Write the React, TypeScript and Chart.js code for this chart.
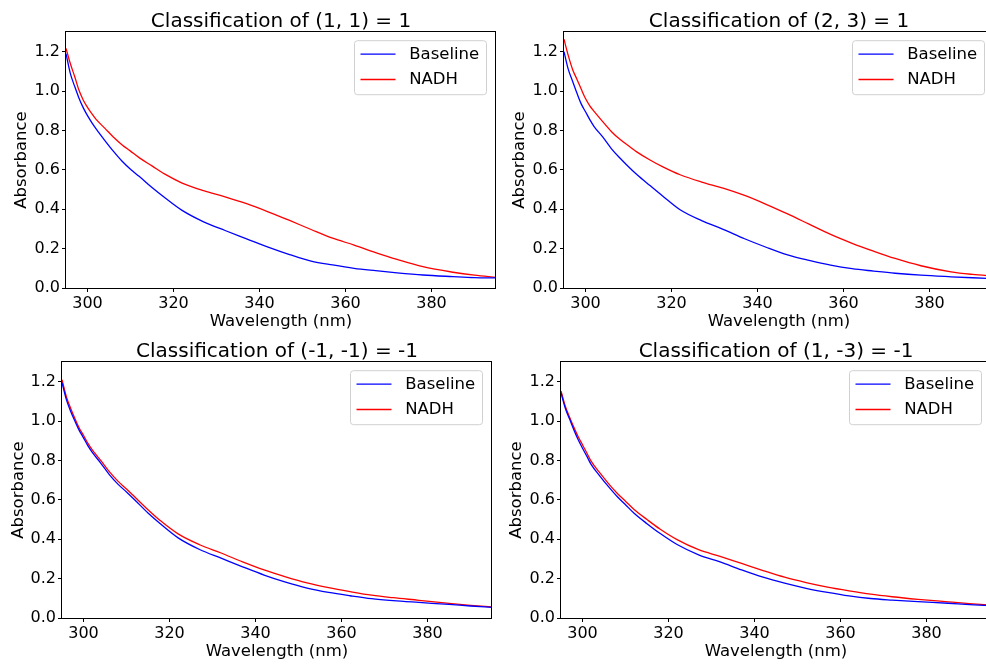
import React, { useEffect, useRef } from 'react';
import { Chart, registerables } from 'chart.js';
Chart.register(...registerables);

const FONT = '"DejaVu Sans", "Liberation Sans", sans-serif';

// Wavelength grid (nm)
const wavelength = [295, 296, 297, 298, 299, 300, 301, 302, 304, 306, 308, 310, 312, 315, 318, 322, 327, 332, 337, 342, 347, 352, 357, 362, 367, 372, 378, 385, 390, 395];

// Classification of (1, 1) = 1
const tlBaseline = [1.19, 1.09, 1.025, 0.965, 0.916, 0.875, 0.84, 0.808, 0.75, 0.695, 0.645, 0.603, 0.567, 0.51, 0.458, 0.394, 0.336, 0.292, 0.25, 0.208, 0.17, 0.137, 0.117, 0.1, 0.088, 0.077, 0.066, 0.058, 0.053, 0.051];
const tlNadh = [1.217, 1.14, 1.075, 1.005, 0.955, 0.917, 0.885, 0.856, 0.812, 0.767, 0.728, 0.695, 0.662, 0.62, 0.578, 0.533, 0.494, 0.463, 0.428, 0.387, 0.343, 0.297, 0.253, 0.218, 0.18, 0.145, 0.108, 0.08, 0.065, 0.054];

// Classification of (2, 3) = 1
const trBaseline = [1.2, 1.11, 1.05, 0.99, 0.935, 0.895, 0.855, 0.82, 0.767, 0.708, 0.66, 0.616, 0.575, 0.52, 0.466, 0.397, 0.342, 0.298, 0.25, 0.207, 0.168, 0.14, 0.116, 0.098, 0.086, 0.075, 0.065, 0.057, 0.052, 0.048];
const trNadh = [1.263, 1.18, 1.11, 1.06, 1.01, 0.962, 0.925, 0.897, 0.845, 0.795, 0.755, 0.722, 0.69, 0.65, 0.615, 0.575, 0.538, 0.507, 0.47, 0.425, 0.376, 0.324, 0.272, 0.227, 0.187, 0.15, 0.113, 0.082, 0.069, 0.06];

// Classification of (-1, -1) = -1
const blBaseline = [1.195, 1.11, 1.05, 1.0, 0.953, 0.915, 0.875, 0.842, 0.787, 0.728, 0.68, 0.64, 0.598, 0.533, 0.476, 0.407, 0.348, 0.304, 0.26, 0.218, 0.182, 0.152, 0.13, 0.113, 0.098, 0.088, 0.079, 0.069, 0.061, 0.054];
const blNadh = [1.21, 1.125, 1.065, 1.013, 0.965, 0.928, 0.888, 0.855, 0.8, 0.743, 0.695, 0.655, 0.613, 0.55, 0.492, 0.427, 0.372, 0.33, 0.285, 0.244, 0.209, 0.178, 0.154, 0.134, 0.116, 0.103, 0.09, 0.074, 0.064, 0.056];

// Classification of (1, -3) = -1
const brBaseline = [1.144, 1.065, 1.01, 0.955, 0.905, 0.862, 0.822, 0.78, 0.722, 0.668, 0.618, 0.575, 0.532, 0.479, 0.43, 0.373, 0.321, 0.285, 0.244, 0.207, 0.177, 0.151, 0.13, 0.112, 0.099, 0.091, 0.083, 0.075, 0.068, 0.063];
const brNadh = [1.153, 1.075, 1.02, 0.968, 0.92, 0.88, 0.838, 0.797, 0.738, 0.684, 0.635, 0.593, 0.551, 0.5, 0.452, 0.398, 0.347, 0.313, 0.277, 0.241, 0.207, 0.18, 0.157, 0.138, 0.121, 0.108, 0.095, 0.082, 0.073, 0.065];

const seriesLabels = ['Baseline', 'NADH'];
const seriesColors = ['#0000ff', '#ff0000'];
const xTicks = [300, 320, 340, 360, 380];
const yTicks = [0, 0.2, 0.4, 0.6, 0.8, 1.0, 1.2];
const titles = ['Classification of (1, 1) = 1', 'Classification of (2, 3) = 1', 'Classification of (-1, -1) = -1', 'Classification of (1, -3) = -1'];
const xLabel = 'Wavelength (nm)';
const yLabel = 'Absorbance';

const framePlugin = {
  id: 'frame',
  afterDatasetsDraw(chart: any) {
    const { ctx, chartArea: a } = chart;
    ctx.save();
    ctx.strokeStyle = '#000';
    ctx.lineWidth = 1;
    const l = Math.round(a.left) - 0.5;
    const t = Math.round(a.top) - 0.5;
    const r = Math.round(a.right) - 0.5;
    const b = Math.round(a.bottom) + 0.5;
    ctx.strokeRect(l, t, r - l, b - t);
    ctx.restore();
  },
};

const legendPlugin = {
  id: 'boxLegend',
  afterDraw(chart: any) {
    const { ctx, chartArea: a } = chart;
    const bw = 132;
    const bh = 54;
    const bx = a.right - 9.5 - bw;
    const by = a.top + 8.7;
    ctx.save();
    ctx.beginPath();
    (ctx as any).roundRect(bx, by, bw, bh, 3);
    ctx.fillStyle = 'rgba(255,255,255,0.8)';
    ctx.fill();
    ctx.strokeStyle = '#d0d0d0';
    ctx.lineWidth = 1;
    ctx.stroke();
    chart.data.datasets.forEach((ds: any, i: number) => {
      const y = by + 13.5 + i * 25.3;
      ctx.beginPath();
      ctx.strokeStyle = ds.borderColor;
      ctx.lineWidth = 1.3;
      ctx.moveTo(bx + 6, y);
      ctx.lineTo(bx + 41, y);
      ctx.stroke();
      ctx.fillStyle = '#000';
      ctx.font = `16.5px ${FONT}`;
      ctx.textBaseline = 'middle';
      ctx.textAlign = 'left';
      ctx.fillText(ds.label, bx + 54.7, y + 0.5);
    });
    ctx.restore();
  },
};

type PanelProps = {
  left: number; top: number; width: number; height: number;
  yW: number; xH: number; yTitlePad: number; xTitlePad: number;
  title: string; baseline: number[]; nadh: number[];
};

function Panel(p: PanelProps) {
  const ref = useRef<HTMLCanvasElement>(null);
  useEffect(() => {
    if (!ref.current) return;
    const series = [p.baseline, p.nadh];
    const chart = new Chart(ref.current, {
      type: 'line',
      data: {
        datasets: series.map((vals, k) => ({
          label: seriesLabels[k],
          data: wavelength.map((x, i) => ({ x, y: vals[i] })),
          borderColor: seriesColors[k],
          backgroundColor: seriesColors[k],
          borderWidth: 1.3,
          pointRadius: 0,
          cubicInterpolationMode: 'monotone',
          fill: false,
        })),
      },
      options: {
        animation: false,
        responsive: false,
        maintainAspectRatio: false,
        devicePixelRatio: 1,
        layout: { padding: 0 },
        plugins: {
          legend: { display: false },
          tooltip: { enabled: false },
          title: {
            display: true,
            text: p.title,
            fullSize: false,
            color: '#000',
            font: { family: FONT, size: 20, weight: 'normal', lineHeight: 1.05 },
            padding: { top: 11, bottom: 0 },
          },
        },
        scales: {
          x: {
            type: 'linear',
            min: 295,
            max: 395,
            offset: false,
            afterBuildTicks: (s: any) => { s.ticks = xTicks.map((v) => ({ value: v })); },
            afterFit: (s: any) => { s.height = p.xH; },
            ticks: {
              color: '#000', font: { family: FONT, size: 16 }, padding: 2.5,
              maxRotation: 0, autoSkip: false, callback: (v: any) => String(v),
            },
            grid: { display: true, drawOnChartArea: false, drawTicks: true, tickLength: 4, color: '#000' },
            border: { display: false },
            title: {
              display: true, text: xLabel, color: '#000',
              font: { family: FONT, size: 16.5, lineHeight: 1 }, padding: { top: 0, bottom: p.xTitlePad },
            },
          },
          y: {
            type: 'linear',
            min: 0,
            max: 1.3,
            afterBuildTicks: (s: any) => { s.ticks = yTicks.map((v) => ({ value: v })); },
            afterFit: (s: any) => { s.width = p.yW; },
            ticks: {
              color: '#000', font: { family: FONT, size: 16 }, padding: 2,
              callback: (v: any) => Number(v).toFixed(1),
            },
            grid: { display: true, drawOnChartArea: false, drawTicks: true, tickLength: 4, color: '#000' },
            border: { display: false },
            title: {
              display: true, text: yLabel, color: '#000',
              font: { family: FONT, size: 16.5 }, padding: { top: p.yTitlePad, bottom: 0 },
            },
          },
        },
      } as any,
      plugins: [framePlugin, legendPlugin],
    });
    return () => chart.destroy();
  }, []);
  return (
    <canvas
      ref={ref}
      width={p.width}
      height={p.height}
      style={{ position: 'absolute', left: p.left, top: p.top, width: p.width, height: p.height, display: 'block' }}
    />
  );
}

export default function App() {
  return (
    <div style={{ position: 'absolute', left: 0, top: 0, width: 986, height: 664, overflow: 'hidden', background: '#fff' }}>
      <Panel left={0} top={0} width={496} height={330} yW={66} xH={42} yTitlePad={11.8} xTitlePad={0}
        title={titles[0]} baseline={tlBaseline} nadh={tlNadh} />
      <Panel left={495} top={0} width={499} height={330} yW={69} xH={42} yTitlePad={15.1} xTitlePad={0}
        title={titles[1]} baseline={trBaseline} nadh={trNadh} />
      <Panel left={0} top={330} width={492} height={334} yW={62} xH={46} yTitlePad={8.4} xTitlePad={3.75}
        title={titles[2]} baseline={blBaseline} nadh={blNadh} />
      <Panel left={495} top={330} width={496} height={334} yW={66} xH={46} yTitlePad={11.8} xTitlePad={4.2}
        title={titles[3]} baseline={brBaseline} nadh={brNadh} />
    </div>
  );
}
